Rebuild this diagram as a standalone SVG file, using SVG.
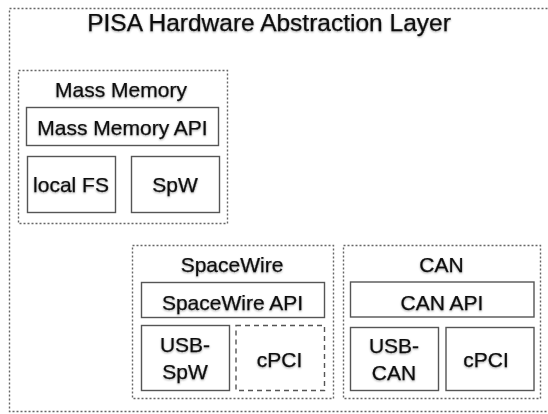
<svg xmlns="http://www.w3.org/2000/svg" width="548" height="414" viewBox="0 0 548 414">
<defs>
<style>
.bg{fill:#ffffff}
.dot{fill:none;stroke:#666;stroke-width:1.4;stroke-dasharray:2 2}
.box{fill:#fff;stroke:#555;stroke-width:1.4}
.dash{fill:#fff;stroke:#555;stroke-width:1.4;stroke-dasharray:5 4}
text{font-family:"Liberation Sans",Arial,sans-serif;fill:#111;stroke:#111;stroke-width:0.25;text-anchor:middle;font-size:21px;filter:url(#sh)}
.title{font-size:24.5px}
</style>
<filter id="sh" x="-10%" y="-20%" width="120%" height="150%">
<feGaussianBlur in="SourceAlpha" stdDeviation="1"/>
<feOffset dx="0" dy="1" result="b"/>
<feComponentTransfer><feFuncA type="linear" slope="0.35"/></feComponentTransfer>
<feMerge><feMergeNode/><feMergeNode in="SourceGraphic"/></feMerge>
</filter>
</defs>
<rect class="bg" x="0" y="0" width="548" height="414"/>
<g id="hal">
<rect class="dot" x="9.5" y="8.5" width="545" height="403"/>
<text class="title" x="269" y="31">PISA Hardware Abstraction Layer</text>
</g>
<g id="mass-memory">
<rect class="dot" x="18.5" y="70.5" width="209" height="153"/>
<text x="121" y="96.5">Mass Memory</text>
</g>
<g id="mass-memory-api">
<rect class="box" x="26.5" y="107.5" width="192" height="38"/>
<text x="122.5" y="135">Mass Memory API</text>
</g>
<g id="local-fs">
<rect class="box" x="27.5" y="156.5" width="88" height="56"/>
<text x="71" y="192">local FS</text>
</g>
<g id="mm-spw">
<rect class="box" x="131.5" y="156.5" width="88" height="56"/>
<text x="175" y="192">SpW</text>
</g>
<g id="spacewire">
<rect class="dot" x="132.5" y="245.5" width="201" height="153"/>
<text x="232" y="272">SpaceWire</text>
</g>
<g id="spacewire-api">
<rect class="box" x="141.5" y="282.5" width="183" height="35"/>
<text x="232.5" y="310">SpaceWire API</text>
</g>
<g id="usb-spw">
<rect class="box" x="141.5" y="325.5" width="88" height="65"/>
<text x="185" y="352">USB-</text>
<text x="185" y="379">SpW</text>
</g>
<g id="spw-cpci">
<rect class="dash" x="236" y="325.5" width="88.5" height="65"/>
<text x="279.5" y="366.5">cPCI</text>
</g>
<g id="can">
<rect class="dot" x="343.5" y="245.5" width="197" height="153"/>
<text x="441.5" y="272">CAN</text>
</g>
<g id="can-api">
<rect class="box" x="350.5" y="282" width="183.5" height="35"/>
<text x="442" y="310">CAN API</text>
</g>
<g id="usb-can">
<rect class="box" x="350.5" y="327.5" width="88" height="63"/>
<text x="394" y="353">USB-</text>
<text x="394" y="380">CAN</text>
</g>
<g id="can-cpci">
<rect class="box" x="446" y="327.5" width="88" height="63"/>
<text x="486" y="366.5">cPCI</text>
</g>
<g id="connectors"/>
</svg>
